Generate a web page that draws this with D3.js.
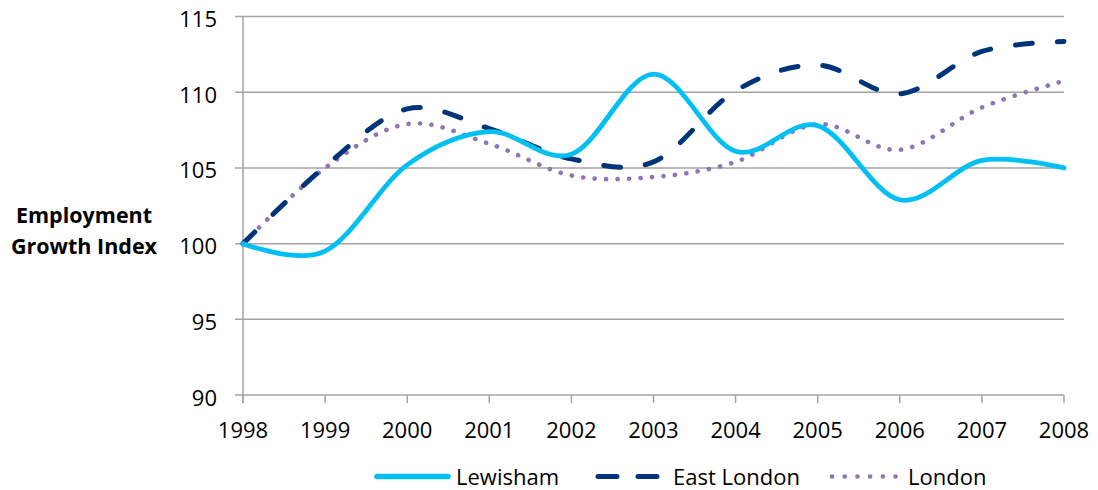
<!DOCTYPE html>
<html>
<head>
<meta charset="utf-8">
<script src="https://cdn.jsdelivr.net/npm/d3@7"></script>
<style>
  html, body { margin: 0; padding: 0; background: #fff; }
  svg { display: block; font-family: "Open Sans", "Liberation Sans", sans-serif; }
</style>
</head>
<body>
<svg id="chart" width="1098" height="490"></svg>
<script>
const years = [1998, 1999, 2000, 2001, 2002, 2003, 2004, 2005, 2006, 2007, 2008];
const lewisham   = [100, 99.5, 105.2, 107.4, 105.9, 111.2, 106.1, 107.8, 102.9, 105.5, 105.0];
const eastLondon = [100, 105.1, 108.9, 107.6, 105.6, 105.4, 110.1, 111.8, 109.9, 112.7, 113.35];
const london     = [100, 105.0, 107.9, 106.6, 104.5, 104.4, 105.4, 107.9, 106.2, 109.0, 110.75];
const yTicks = [90, 95, 100, 105, 110, 115];
const seriesNames = ["Lewisham", "East London", "London"];

const svg = d3.select("#chart");
const x = d3.scaleLinear().domain([1998, 2008]).range([243, 1064]);
const y = d3.scaleLinear().domain([90, 115]).range([395.0, 16.6]);
const grey = "#a3a3a3";

// gridlines
svg.append("g").selectAll("line").data(yTicks).join("line")
  .attr("x1", 235).attr("x2", 1064)
  .attr("y1", d => y(d)).attr("y2", d => y(d))
  .attr("stroke", grey).attr("stroke-width", 1.5);

// y axis line
svg.append("line").attr("x1", x(1998)).attr("x2", x(1998))
  .attr("y1", y(115)).attr("y2", y(90) + 8)
  .attr("stroke", grey).attr("stroke-width", 1.5);

// x ticks
svg.append("g").selectAll("line").data(years).join("line")
  .attr("x1", d => x(d)).attr("x2", d => x(d))
  .attr("y1", y(90)).attr("y2", y(90) + 8)
  .attr("stroke", grey).attr("stroke-width", 1.5);

// y tick labels
svg.append("g").selectAll("text").data(yTicks).join("text")
  .attr("x", 217).attr("y", d => y(d) + 10.5)
  .attr("text-anchor", "end").attr("font-size", 22).attr("fill", "#000")
  .text(d => d);

// x tick labels
svg.append("g").selectAll("text").data(years).join("text")
  .attr("x", d => x(d)).attr("y", 438)
  .attr("text-anchor", "middle").attr("font-size", 22).attr("fill", "#000")
  .text(d => d);

// y axis title
const yt = svg.append("text").attr("text-anchor", "middle")
  .attr("font-size", 21.5).attr("font-weight", "bold").attr("fill", "#000");
yt.append("tspan").attr("x", 84).attr("y", 223).text("Employment");
yt.append("tspan").attr("x", 84).attr("y", 254).text("Growth Index");

const line = d3.line()
  .x((d, i) => x(years[i]))
  .y(d => y(d))
  .curve(d3.curveCatmullRom.alpha(0));

const styles = [
  { color: "#00bff3", width: 4.8, dash: null, cap: "round" },
  { color: "#003478", width: 5, dash: "17,25", cap: "round" },
  { color: "#8f74b6", width: 4.6, dash: "0.1,11.4", cap: "round" }
];
const data = [lewisham, eastLondon, london];

const order = [2, 1, 0];
order.forEach(k => {
  svg.append("path").datum(data[k])
    .attr("d", line)
    .attr("fill", "none")
    .attr("stroke", styles[k].color)
    .attr("stroke-width", styles[k].width)
    .attr("stroke-linecap", styles[k].cap)
    .attr("stroke-dasharray", styles[k].dash);
});

// legend
const legendItems = [
  { x1: 377, x2: 448, tx: 456 },
  { x1: 598, x2: 660, tx: 673 },
  { x1: 832, x2: 896, tx: 908 }
];
legendItems.forEach((L, k) => {
  svg.append("line")
    .attr("x1", L.x1).attr("x2", L.x2).attr("y1", 476.5).attr("y2", 476.5)
    .attr("stroke", styles[k].color)
    .attr("stroke-width", k === 0 ? 5.5 : styles[k].width)
    .attr("stroke-linecap", styles[k].cap)
    .attr("stroke-dasharray", k === 1 ? "19,21" : (k === 2 ? "0.1,12.6" : null));
  svg.append("text").attr("x", L.tx).attr("y", 485)
    .attr("font-size", 22).attr("fill", "#000").text(seriesNames[k]);
});
</script>
</body>
</html>
